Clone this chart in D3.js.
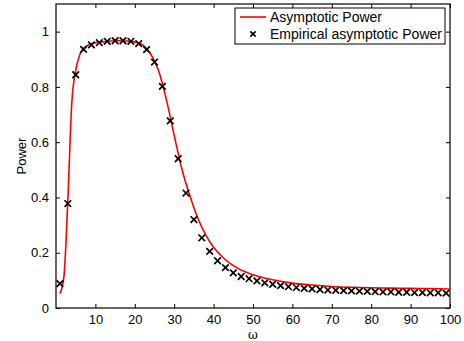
<!DOCTYPE html>
<html>
<head>
<meta charset="utf-8">
<script src="https://cdn.jsdelivr.net/npm/d3@7"></script>
<style>
  body { margin: 0; background: #fff; }
  text { font-family: "Liberation Sans", Arial, sans-serif; }
</style>
</head>
<body>
<div id="chart"></div>
<script>
// asymptotic power curve (red line)
const asymOmega = [1, 2, 3, 4, 5, 6, 7, 8, 9, 10, 12, 14, 16, 18, 20, 22, 24, 26, 28, 30,
  32, 34, 36, 38, 40, 42, 44, 46, 48, 50, 55, 60, 65, 70, 75, 80, 85, 90, 95, 100];
const asymPower = [0.052, 0.112, 0.39, 0.74, 0.86, 0.915, 0.94, 0.95, 0.956, 0.96, 0.963, 0.966,
  0.967, 0.966, 0.963, 0.952, 0.92, 0.86, 0.755, 0.625, 0.50, 0.405, 0.325, 0.265, 0.22,
  0.188, 0.163, 0.145, 0.131, 0.12, 0.102, 0.09, 0.083, 0.078, 0.075, 0.073, 0.072, 0.071,
  0.07, 0.069];

// empirical points (crosses), omega = 1, 3, ..., 99
const empOmega = [1, 3, 5, 7, 9, 11, 13, 15, 17, 19, 21, 23, 25, 27, 29, 31, 33, 35, 37, 39,
  41, 43, 45, 47, 49, 51, 53, 55, 57, 59, 61, 63, 65, 67, 69, 71, 73, 75, 77, 79,
  81, 83, 85, 87, 89, 91, 93, 95, 97, 99];
const empPower = [0.088, 0.378, 0.844, 0.936, 0.952, 0.96, 0.965, 0.967, 0.967, 0.965,
  0.957, 0.935, 0.89, 0.802, 0.677, 0.54, 0.416, 0.32, 0.254, 0.205,
  0.171, 0.146, 0.127, 0.114, 0.106, 0.098, 0.091, 0.086, 0.081, 0.077,
  0.074, 0.071, 0.069, 0.067, 0.065, 0.064, 0.063, 0.062, 0.061, 0.06,
  0.059, 0.058, 0.058, 0.057, 0.057, 0.056, 0.056, 0.055, 0.055, 0.054];

const xTicks = [10, 20, 30, 40, 50, 60, 70, 80, 90, 100];
const yTicks = [0, 0.2, 0.4, 0.6, 0.8, 1];

const width = 464, height = 341;
const margin = { left: 56, right: 14, top: 4, bottom: 33 };
const iw = width - margin.left - margin.right;
const ih = height - margin.top - margin.bottom;

const svg = d3.select('#chart').append('svg')
  .attr('width', width)
  .attr('height', height);

const g = svg.append('g')
  .attr('transform', `translate(${margin.left},${margin.top})`);

const x = d3.scaleLinear().domain([0, 100]).range([0, iw]);
const y = d3.scaleLinear().domain([0, 1.1]).range([ih, 0]);

const tickLen = 4;
const fmtY = d => d === 0 ? '0' : (d === 1 ? '1' : d3.format('.1f')(d));

// bottom / left axes with labels, ticks pointing inward
const xAxis = g.append('g')
  .attr('transform', `translate(0,${ih})`)
  .call(d3.axisBottom(x).tickValues(xTicks).tickSizeInner(-tickLen).tickSizeOuter(0).tickPadding(7));
const yAxis = g.append('g')
  .call(d3.axisLeft(y).tickValues(yTicks).tickFormat(fmtY).tickSizeInner(-tickLen).tickSizeOuter(0).tickPadding(7));
// top / right mirrored ticks
const xTop = g.append('g')
  .call(d3.axisTop(x).tickValues(xTicks).tickSizeInner(-tickLen).tickSizeOuter(0).tickFormat(''));
const yRight = g.append('g')
  .attr('transform', `translate(${iw},0)`)
  .call(d3.axisRight(y).tickValues(yTicks).tickSizeInner(-tickLen).tickSizeOuter(0).tickFormat(''));

[xAxis, yAxis, xTop, yRight].forEach(a => {
  a.select('.domain').remove();
  a.selectAll('line').attr('stroke', '#000').attr('stroke-width', 1);
  a.selectAll('text').attr('fill', '#000').style('font-size', '13px');
});

g.append('rect')
  .attr('width', iw).attr('height', ih)
  .attr('fill', 'none').attr('stroke', '#000').attr('stroke-width', 1.2);

// red line
const line = d3.line()
  .x((d, i) => x(asymOmega[i]))
  .y(d => y(d))
  .curve(d3.curveMonotoneX);

g.append('path')
  .datum(asymPower)
  .attr('d', line)
  .attr('fill', 'none')
  .attr('stroke', '#ff0000')
  .attr('stroke-width', 1.6);

// crosses
const cross = d3.symbol().type(d3.symbolX).size(30);
g.selectAll('.pt')
  .data(empPower)
  .enter()
  .append('path')
  .attr('class', 'pt')
  .attr('d', cross)
  .attr('transform', (d, i) => `translate(${x(empOmega[i])},${y(d)})`)
  .attr('stroke', '#000')
  .attr('stroke-width', 1.7)
  .attr('fill', 'none');

// axis titles
svg.append('text')
  .attr('x', margin.left + iw / 2)
  .attr('y', 339)
  .attr('text-anchor', 'middle')
  .style('font-family', '"DejaVu Serif", "Liberation Serif", serif')
  .style('font-size', '12px')
  .text('ω');

svg.append('text')
  .attr('transform', `translate(26,${margin.top + ih / 2}) rotate(-90)`)
  .attr('text-anchor', 'middle')
  .style('font-size', '13px')
  .text('Power');

// legend
const lg = svg.append('g').attr('transform', 'translate(235,8)');
lg.append('rect')
  .attr('width', 210).attr('height', 36)
  .attr('fill', '#fff').attr('stroke', '#000').attr('stroke-width', 1);
lg.append('line')
  .attr('x1', 5).attr('x2', 31).attr('y1', 9).attr('y2', 9)
  .attr('stroke', '#ff0000').attr('stroke-width', 1.6);
lg.append('path')
  .attr('d', d3.symbol().type(d3.symbolX).size(20))
  .attr('transform', 'translate(18,26)')
  .attr('stroke', '#000').attr('stroke-width', 1.6);
lg.append('text').attr('x', 35).attr('y', 13.5).style('font-size', '14px').text('Asymptotic Power');
lg.append('text').attr('x', 35).attr('y', 31).style('font-size', '14px').text('Empirical asymptotic Power');
</script>
</body>
</html>
